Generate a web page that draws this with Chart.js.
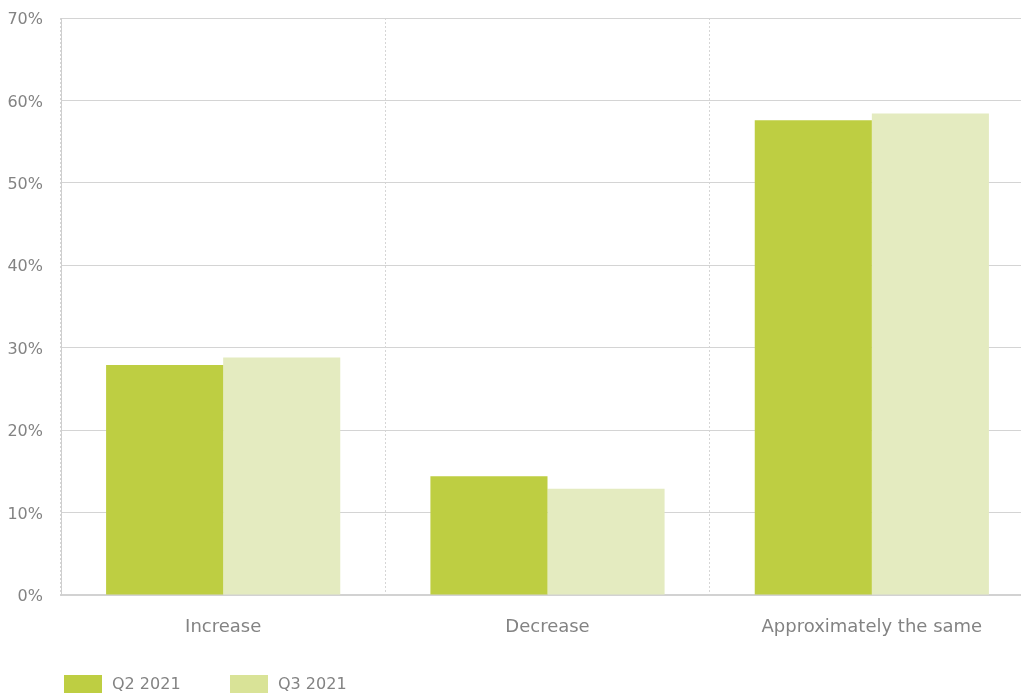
<!DOCTYPE html>
<html>
<head>
<meta charset="utf-8">
<script src="https://cdn.jsdelivr.net/npm/chart.js@4/dist/chart.umd.min.js"></script>
<style>
  html, body { margin: 0; padding: 0; background: #fff; overflow: hidden; }
  #wrap { position: relative; width: 1040px; height: 695px; }
</style>
</head>
<body>
<div id="wrap"><canvas id="c" width="1040" height="695"></canvas></div>
<script>
const categories = ["Increase", "Decrease", "Approximately the same"];
const seriesNames = ["Q2 2021", "Q3 2021"];
const q2Values = [27.9, 14.4, 57.6];
const q3Values = [28.8, 12.9, 58.4];
const yTicks = [0, 10, 20, 30, 40, 50, 60, 70];

const barColors = ["#BECE42", "#E4EBC0"];
const legendColors = ["#BECE42", "#D9E397"];
const FONT = "'DejaVu Sans', sans-serif";
const TEXT = '#838383';

const legendPlugin = {
  id: 'customLegend',
  afterDraw(chart) {
    const ctx = chart.ctx;
    ctx.save();
    ctx.font = "16px " + FONT;
    ctx.textBaseline = 'middle';
    const starts = [64, 230];
    chart.data.datasets.forEach((ds, i) => {
      const x = starts[i];
      ctx.fillStyle = legendColors[i];
      ctx.fillRect(x, 675, 38, 18);
      ctx.fillStyle = TEXT;
      ctx.fillText(ds.label, x + 48, 685);
    });
    ctx.restore();
  }
};

new Chart(document.getElementById('c'), {
  type: 'bar',
  data: {
    labels: categories,
    datasets: [
      { label: seriesNames[0], data: q2Values, backgroundColor: barColors[0], borderWidth: 0 },
      { label: seriesNames[1], data: q3Values, backgroundColor: barColors[1], borderWidth: 0 }
    ]
  },
  options: {
    responsive: false,
    animation: false,
    devicePixelRatio: 1,
    layout: { padding: { top: 18, right: 6, bottom: 0, left: 0 } },
    categoryPercentage: 0.722,
    barPercentage: 1.0,
    plugins: {
      legend: { display: false },
      tooltip: { enabled: false }
    },
    scales: {
      x: {
        grid: {
          display: true,
          offset: true,
          color: '#d6d6d6',
          drawTicks: false
        },
        border: { display: true, color: '#d2d2d2', width: 2, dash: [2, 2] },
        ticks: {
          color: TEXT,
          font: { family: FONT, size: 18 },
          padding: 22
        },
        afterFit(scale) { scale.height = 100; }
      },
      y: {
        min: 0,
        max: 70,
        afterBuildTicks(scale) { scale.ticks = yTicks.map(v => ({ value: v })); },
        grid: { color: '#d4d4d4', drawTicks: false, lineWidth: 1 },
        border: { display: true, color: '#cfcfcf', width: 1 },
        ticks: {
          color: TEXT,
          font: { family: FONT, size: 16 },
          padding: 18,
          labelOffset: 2,
          callback: v => v + '%'
        },
        afterFit(scale) { scale.width = 61; scale.paddingTop = 0; }
      }
    }
  },
  plugins: [legendPlugin]
});
</script>
</body>
</html>
